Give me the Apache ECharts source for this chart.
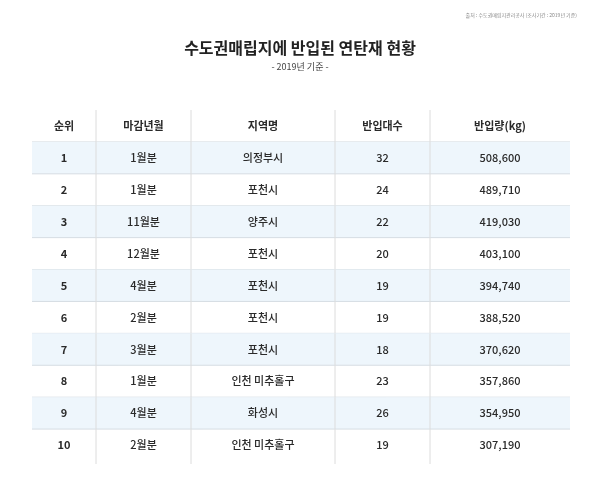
<!DOCTYPE html>
<html><head><meta charset="utf-8">
<script src="https://cdn.jsdelivr.net/npm/echarts@6/dist/echarts.min.js"></script>
<style>html,body{margin:0;background:#fff}#c{width:600px;height:496px}</style>
</head><body><div id="c"></div>
<script>
const headers = ["순위", "마감년월", "지역명", "반입대수", "반입량(kg)"];
const ranks = [1, 2, 3, 4, 5, 6, 7, 8, 9, 10];
const months = ["1월분", "1월분", "11월분", "12월분", "4월분", "2월분", "3월분", "1월분", "4월분", "2월분"];
const regions = ["의정부시", "포천시", "양주시", "포천시", "포천시", "포천시", "포천시", "인천 미추홀구", "화성시", "인천 미추홀구"];
const trucks = [32, 24, 22, 20, 19, 19, 18, 23, 26, 19];
const amounts = [508600, 489710, 419030, 403100, 394740, 388520, 370620, 357860, 354950, 307190];

const colEdges = [0, 64, 159, 303, 398, 538];
const font = '"Noto Sans CJK KR", "Noto Sans", sans-serif';

const rows = [headers].concat(ranks.map((r, i) => [
  String(r), months[i], regions[i], String(trucks[i]), amounts[i].toLocaleString("en-US")
]));
const cats = rows.map((_, i) => "r" + i);

const chart = echarts.init(document.getElementById("c"));
chart.setOption({
  animation: false,
  title: [
    { text: "수도권매립지에 반입된 연탄재 현황", left: "center", top: 35,
      textStyle: { fontFamily: font, fontSize: 16, fontWeight: "bold", color: "#222" } },
    { text: "- 2019년 기준 -", left: "center", top: 57,
      textStyle: { fontFamily: font, fontSize: 9, fontWeight: "normal", color: "#444" } },
    { text: "출처 : 수도권매립지관리공사 (조사기간 : 2019년 기준)", right: 18, top: 8,
      textStyle: { fontFamily: font, fontSize: 5, fontWeight: "normal", color: "#888" } }
  ],
  grid: { left: 32, right: 30, top: 110, bottom: 35 },
  xAxis: { type: "value", min: 0, max: 538, show: false },
  yAxis: { type: "category", data: cats, inverse: true, show: false },
  series: [{
    type: "custom",
    data: rows.map((r, i) => [0, i]),
    renderItem: (params, api) => {
      const i = api.value(1);
      const row = rows[i];
      const size = api.size([0, 1]);
      const h = size[1];
      const cy = api.coord([0, i])[1];
      const top = cy - h / 2;
      const x = colEdges.map((e) => api.coord([e, i])[0]);
      const children = [];
      if (i > 0 && i % 2 === 1) {
        children.push({ type: "rect", shape: { x: x[0], y: top, width: x[5] - x[0], height: h },
          style: { fill: "#eef6fc" } });
      }
      if (i < rows.length - 1) {
        children.push({ type: "line", shape: { x1: x[0], y1: top + h, x2: x[5], y2: top + h },
          style: { stroke: "#d6dde3", lineWidth: 1 } });
      }
      for (let k = 1; k < 5; k++) {
        children.push({ type: "line", shape: { x1: x[k], y1: top, x2: x[k], y2: top + h + (i === rows.length - 1 ? 3 : 0) },
          style: { stroke: "#dcdcdc", lineWidth: 1 } });
      }
      row.forEach((t, k) => {
        children.push({ type: "text", style: {
          text: t, x: (x[k] + x[k + 1]) / 2, y: cy, align: "center", verticalAlign: "middle",
          fontFamily: font, fontSize: 11, fill: "#2a2a2a",
          fontWeight: (i === 0 || k === 0) ? "bold" : 500
        } });
      });
      return { type: "group", children };
    }
  }]
});
</script></body></html>
